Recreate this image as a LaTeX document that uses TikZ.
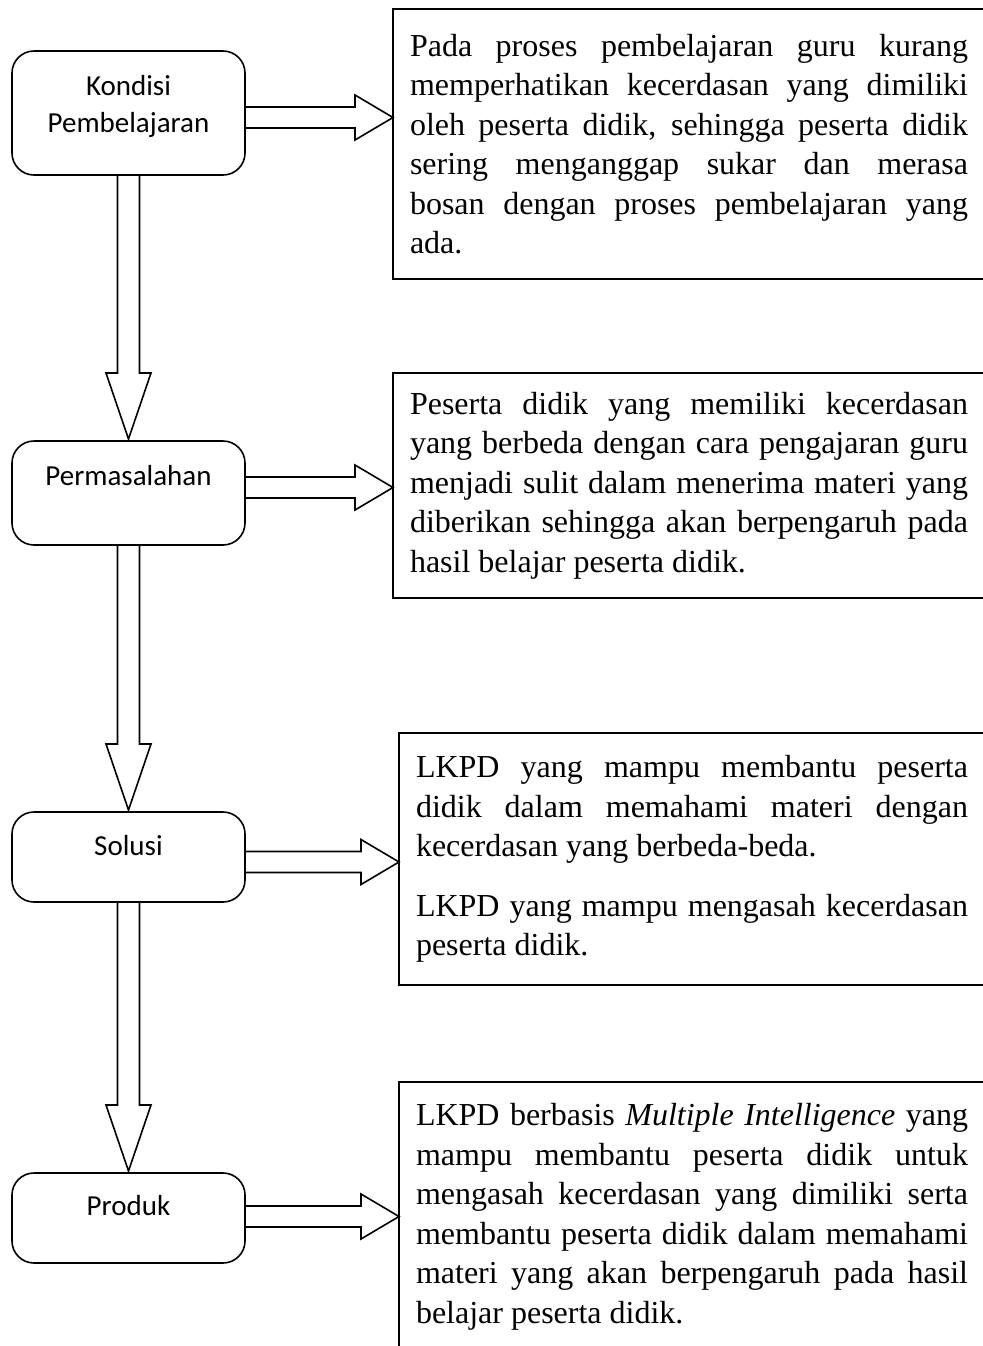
\documentclass[tikz,border=0pt]{standalone}
\usepackage{fontspec}
\setmainfont{Liberation Serif}
\setsansfont{Carlito}
\usepackage{tikz}
\usetikzlibrary{positioning, calc}
\tikzstyle{stepbox} = [draw, rounded corners=11pt, line width=0.8pt, minimum width=116.5pt, inner sep=0pt, outer sep=0pt, anchor=north west]
\tikzstyle{steplabel} = [font={\sffamily\fontsize{14.5}{18.5}\selectfont}, align=center, inner sep=0pt, anchor=north]
\tikzstyle{ketbox} = [draw, line width=0.9pt, text width=279pt, align=justify, inner xsep=8.5pt, inner ysep=0pt, outer sep=0pt, anchor=north west, font={\fontsize{16}{19.75}\selectfont\tolerance=10000\hyphenpenalty=10000}]
\tikzstyle{blockarrow} = [line width=0.8pt, line join=miter]

\begin{document}
\begin{tikzpicture}[x=0.5pt, y=-0.5pt]
    \useasboundingbox (0,0) rectangle (982,1346);
    % tahapan
    \node[stepbox, minimum height=62pt] (kondisi) at (12,51) {};
    \node[stepbox, minimum height=52pt] (masalah) at (12,441) {};
    \node[stepbox, minimum height=45pt] (solusi) at (12,812) {};
    \node[stepbox, minimum height=45pt] (produk) at (12,1173) {};
    \node[steplabel, below=12pt of kondisi.north] (kondisiText) {Kondisi\\Pembelajaran};
    \node[steplabel, below=12pt of masalah.north] (masalahText) {Permasalahan};
    \node[steplabel, below=11.5pt of solusi.north] (solusiText) {Solusi};
    \node[steplabel, below=11pt of produk.north] (produkText) {Produk};
    % keterangan
    \node[ketbox, minimum height=135pt] (ket1) at (393,9) {Pada proses pembelajaran guru kurang\linebreak memperhatikan kecerdasan yang dimiliki\linebreak oleh peserta didik, sehingga peserta didik\linebreak sering menganggap sukar dan merasa\linebreak bosan dengan proses pembelajaran yang\linebreak ada.};
    \node[ketbox, minimum height=112.5pt] (ket2) at (393,373) {Peserta didik yang memiliki kecerdasan\linebreak yang berbeda dengan cara pengajaran guru\linebreak menjadi sulit dalam menerima materi yang\linebreak diberikan sehingga akan berpengaruh pada\linebreak hasil belajar peserta didik.};
    \node[ketbox, text width=276pt, minimum height=126pt] (ket3) at (399,733) {LKPD yang mampu membantu peserta\linebreak didik dalam memahami materi dengan\linebreak kecerdasan yang berbeda-beda.\par\vspace{10pt}LKPD yang mampu mengasah kecerdasan\linebreak peserta didik.};
    \node[ketbox, text width=276pt, minimum height=135pt] (ket4) at (399,1082) {LKPD berbasis \textit{Multiple Intelligence} yang\linebreak mampu membantu peserta didik untuk\linebreak mengasah kecerdasan yang dimiliki serta\linebreak membantu peserta didik dalam memahami\linebreak materi yang akan berpengaruh pada hasil\linebreak belajar peserta didik.};
    % panah ke bawah
    \foreach \a/\b in {kondisi/masalah, masalah/solusi, solusi/produk} {
        \draw[blockarrow] ($(\a.south)+(-11,0)$) -- ($(\b.north)+(-11,-68)$) -- ($(\b.north)+(-22.5,-68)$) -- ($(\b.north)+(0,-2)$) -- ($(\b.north)+(22.5,-68)$) -- ($(\b.north)+(11,-68)$) -- ($(\a.south)+(11,0)$);
    }
    % panah ke kanan
    \foreach \a/\b/\dy in {kondisi/ket1/4.5, masalah/ket2/-5.5, solusi/ket3/5, produk/ket4/-1.5} {
        \coordinate (tip) at ($(\a.east -| \b.west)+(0,\dy)$);
        \draw[blockarrow] ($(\a.east)+(0,\dy-10.5)$) -- ($(tip)+(-38,-10.5)$) -- ($(tip)+(-38,-22.5)$) -- (tip) -- ($(tip)+(-38,22.5)$) -- ($(tip)+(-38,10.5)$) -- ($(\a.east)+(0,\dy+10.5)$);
    }
\end{tikzpicture}
\end{document}
